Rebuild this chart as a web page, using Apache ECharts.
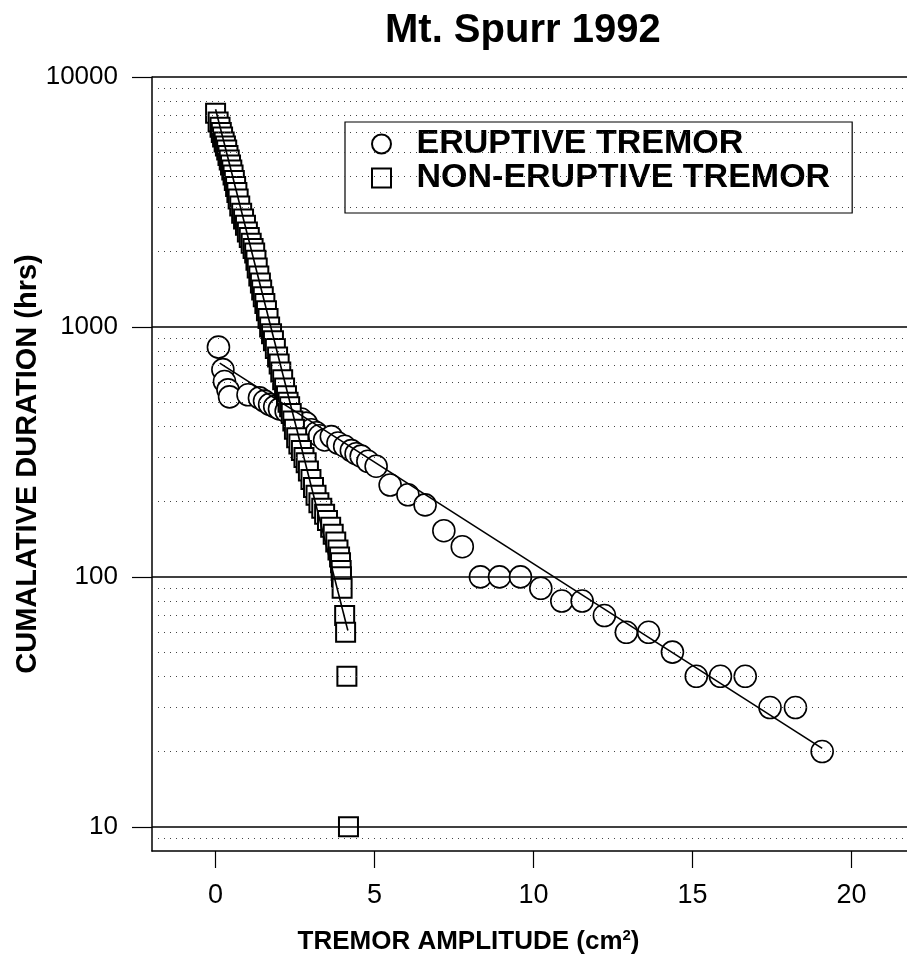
<!DOCTYPE html>
<html><head><meta charset="utf-8">
<script src="https://cdn.jsdelivr.net/npm/echarts@6/dist/echarts.min.js"></script>
<style>html,body{margin:0;padding:0;background:#fff}#c{width:907px;height:967px}</style>
</head><body><div id="c"></div>
<script>
// ERUPTIVE TREMOR (circles)
const eruptiveX = [0.09,0.23,0.28,0.39,0.44,1.02,1.38,1.54,1.70,1.86,2.01,2.22,2.43,2.69,2.85,3.01,3.17,3.27,3.43,3.64,3.85,4.06,4.27,4.42,4.58,4.79,5.05,5.49,6.05,6.59,7.18,7.76,8.33,8.93,9.59,10.23,10.89,11.53,12.23,12.92,13.62,14.37,15.12,15.88,16.66,17.44,18.24,19.08];
const eruptiveY = [830,675,605,560,525,535,520,505,490,480,470,460,440,428,412,388,377,367,353,364,343,333,320,311,304,290,277,233,213,194,153,132,100,100,100,90,80,80,70,60,60,50,40,40,40,30,30,20];
// NON-ERUPTIVE TREMOR (squares)
const nonEruptiveX = [0.00,0.08,0.14,0.18,0.22,0.27,0.31,0.35,0.39,0.43,0.47,0.51,0.55,0.59,0.63,0.67,0.71,0.76,0.82,0.88,0.94,1.00,1.06,1.12,1.18,1.23,1.27,1.31,1.36,1.41,1.45,1.50,1.55,1.60,1.65,1.70,1.76,1.82,1.88,1.95,2.00,2.05,2.11,2.17,2.23,2.28,2.33,2.38,2.43,2.48,2.55,2.62,2.70,2.78,2.85,2.92,3.00,3.08,3.16,3.25,3.34,3.43,3.52,3.62,3.70,3.78,3.85,3.90,3.93,3.95,3.96,3.98,4.06,4.09,4.13,4.18];
const nonEruptiveY = [7160,6600,6300,6000,5750,5500,5300,5100,4850,4650,4450,4250,4050,3850,3650,3450,3250,3050,2850,2700,2550,2400,2280,2160,2060,1975,1850,1720,1600,1500,1406,1320,1240,1160,1080,1000,940,880,820,758,710,660,614,570,530,500,479,450,420,390,360,340,320,300,286,265,245,228,212,198,188,178,168,158,148,138,128,120,114,106,100,90,70,60,40,10];
// fitted lines (end points)
const eruptiveFitX = [0.13, 19.08];
const eruptiveFitY = [716, 20.6];
const nonEruptiveFitX = [0.0, 4.16];
const nonEruptiveFitY = [7430, 61];
// axis ticks
const xTickValues = [0, 5, 10, 15, 20];
const yTickValues = [10, 100, 1000, 10000];
const majorGrid = [10, 100, 1000, 10000];
const minorMultipliers = [2, 3, 4, 5, 6, 7, 8, 9];

const minorGrid = [9];
[10, 100, 1000].forEach(d => minorMultipliers.forEach(m => minorGrid.push(d * m)));

const zip = (xs, ys) => xs.map((x, i) => [x, ys[i]]);
const FONT = '"Liberation Sans", Arial, Helvetica, sans-serif';

const chart = echarts.init(document.getElementById('c'), null, {renderer: 'canvas'});
const markStyleMajor = {type: 'solid', width: 1.5, color: '#000'};
const markStyleMinor = {type: [1, 5], width: 1, color: '#444'};

chart.setOption({
  animation: false,
  backgroundColor: '#fff',
  title: {
    text: 'Mt. Spurr 1992', left: 380, top: 6,
    textStyle: {fontFamily: FONT, fontSize: 40, fontWeight: 'bold', color: '#000'}
  },
  legend: {
    orient: 'vertical', left: 345, top: 122,
    padding: [5, 22, 18, 26], itemGap: 0, itemWidth: 60, itemHeight: 19,
    borderColor: '#000', borderWidth: 1.2, backgroundColor: '#fff',
    selectedMode: false,
    textStyle: {fontFamily: FONT, fontSize: 34, fontWeight: 'bold', color: '#000'},
    data: [
      {name: 'ERUPTIVE TREMOR', icon: 'circle'},
      {name: 'NON-ERUPTIVE TREMOR', icon: 'path://M0 0H10V10H0Z'}
    ]
  },
  grid: {left: 152, top: 77, width: 763, height: 774, outerBoundsMode: 'none', containLabel: false},
  xAxis: {
    type: 'value', min: -2, max: 22,
    axisLine: {onZero: false, lineStyle: {color: '#000', width: 1.5}},
    splitLine: {show: false},
    axisTick: {customValues: xTickValues, length: 17, lineStyle: {color: '#000', width: 1.2}},
    axisLabel: {customValues: xTickValues, margin: 31, fontFamily: FONT, fontSize: 27, color: '#000'},
    name: 'TREMOR AMPLITUDE (cm{sup|2})', nameLocation: 'middle', nameGap: 77, nameMoveOverlap: false,
    nameTextStyle: {
      fontFamily: FONT, fontSize: 26, fontWeight: 'bold', color: '#000', padding: [0, 130, 0, 0],
      rich: {sup: {fontFamily: FONT, fontSize: 15, fontWeight: 'bold', color: '#000', verticalAlign: 'top', padding: [0, 0, 12, 0]}}
    }
  },
  yAxis: {
    type: 'log', min: 8, max: 10000,
    axisLine: {onZero: false, lineStyle: {color: '#000', width: 1.5}},
    splitLine: {show: false},
    axisTick: {customValues: yTickValues, length: 20, lineStyle: {color: '#000', width: 1.2}},
    axisLabel: {
      customValues: yTickValues,
      margin: 34, fontFamily: FONT, fontSize: 26, color: '#000',
      formatter: v => {
        const l = Math.log10(v);
        return Math.abs(l - Math.round(l)) < 1e-6 ? String(Math.round(v)) : '';
      }
    },
    name: 'CUMALATIVE DURATION (hrs)', nameLocation: 'middle', nameGap: 110, nameMoveOverlap: false,
    nameTextStyle: {fontFamily: FONT, fontSize: 29, fontWeight: 'bold', color: '#000'}
  },
  series: [
    {
      name: 'gridlines', type: 'line', data: [], z: 1, silent: true,
      markLine: {
        silent: true, symbol: ['none', 'none'], label: {show: false},
        data: majorGrid.map(v => ({yAxis: v, lineStyle: markStyleMajor}))
          .concat(minorGrid.map(v => ({yAxis: v, lineStyle: markStyleMinor})))
      }
    },
    {
      name: 'ERUPTIVE TREMOR', type: 'scatter', symbol: 'circle', symbolSize: 22, z: 3,
      itemStyle: {color: '#fff', borderColor: '#000', borderWidth: 1.6, opacity: 1},
      data: zip(eruptiveX, eruptiveY)
    },
    {
      name: 'NON-ERUPTIVE TREMOR', type: 'scatter', symbol: 'rect', symbolSize: 19, z: 4,
      itemStyle: {color: '#fff', borderColor: '#000', borderWidth: 2, opacity: 1},
      data: zip(nonEruptiveX, nonEruptiveY)
    },
    {
      name: 'eruptive fit', type: 'line', z: 5, symbol: 'none', silent: true,
      lineStyle: {color: '#000', width: 1.6},
      data: zip(eruptiveFitX, eruptiveFitY)
    },
    {
      name: 'non-eruptive fit', type: 'line', z: 5, symbol: 'none', silent: true,
      lineStyle: {color: '#000', width: 1.6},
      data: zip(nonEruptiveFitX, nonEruptiveFitY)
    }
  ]
});
</script>
</body></html>
